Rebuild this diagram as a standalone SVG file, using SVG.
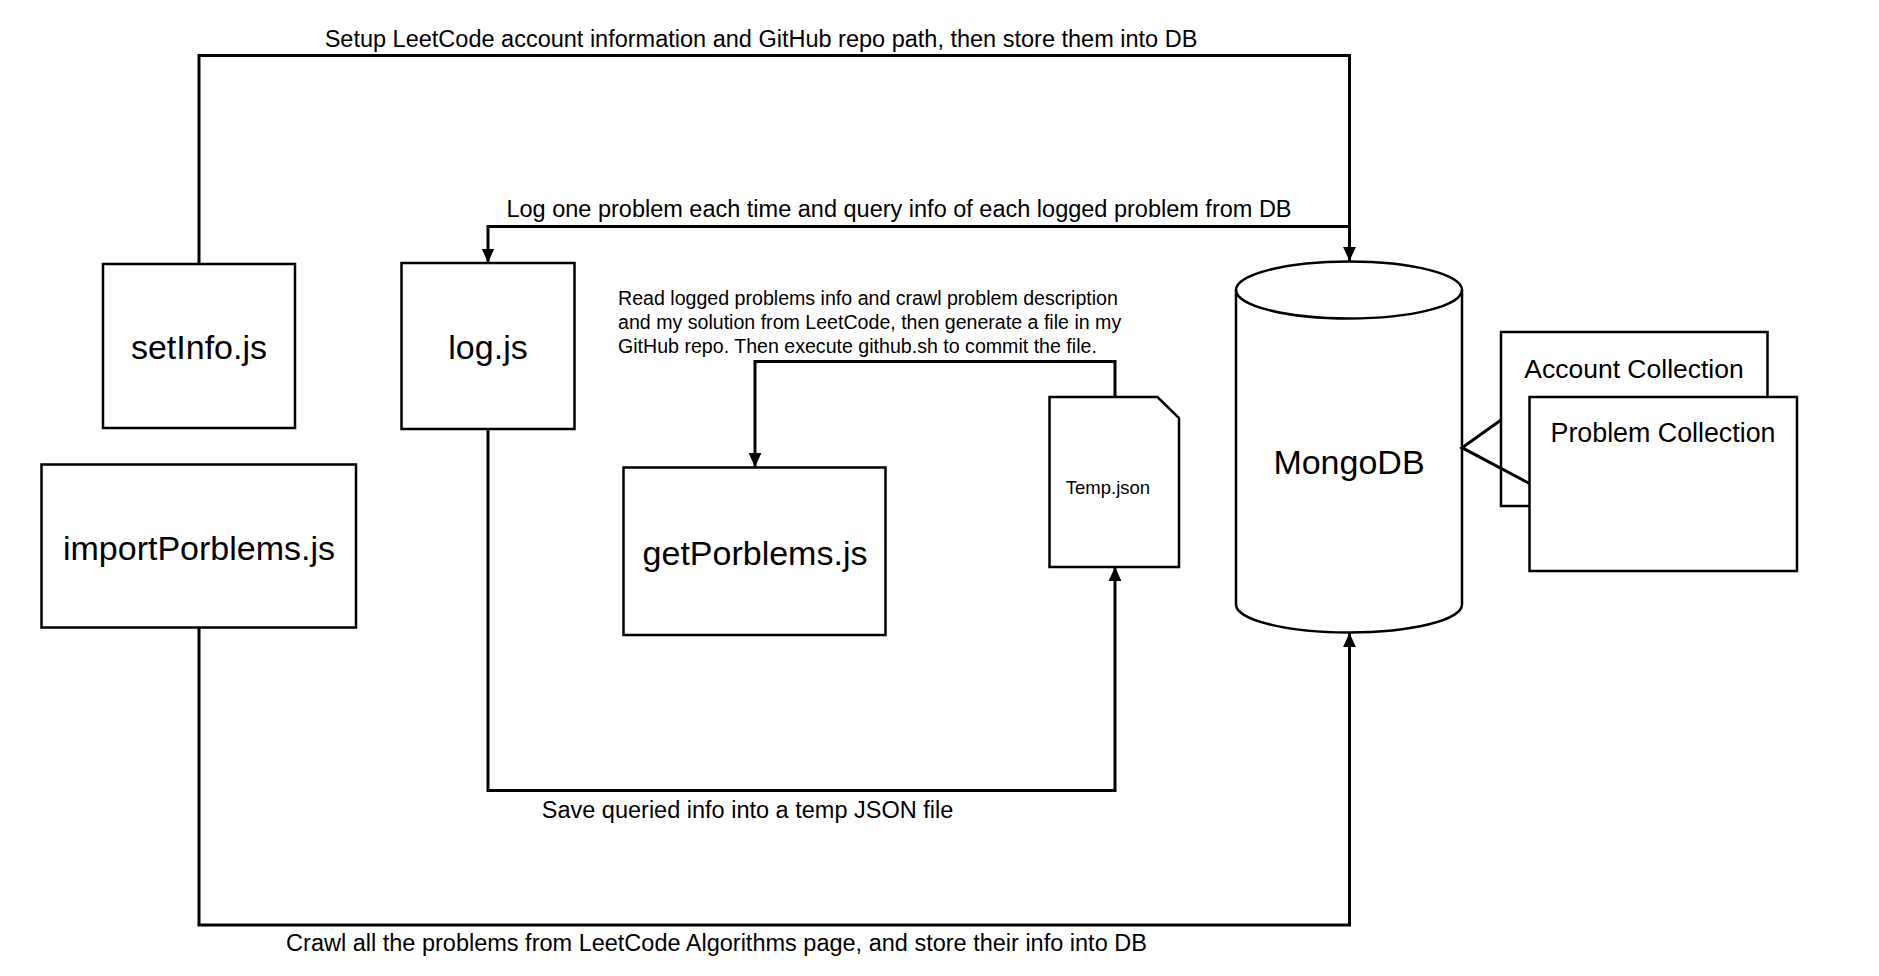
<svg xmlns="http://www.w3.org/2000/svg" width="1879" height="976" viewBox="0 0 1879 976">
<defs>
<style>
.box{fill:#fff;stroke:#000;stroke-width:2.5}
.conn{fill:none;stroke:#000;stroke-width:3;stroke-linejoin:miter}
.t{font-family:"Liberation Sans",Arial,sans-serif;fill:#000}
.node{font-size:34px;text-anchor:middle}
.lbl{font-size:23.5px;text-anchor:middle}
.para{font-size:19.6px}
</style>
<marker id="arr" markerUnits="userSpaceOnUse" markerWidth="14" markerHeight="14" viewBox="0 0 12 12" refX="12" refY="6" orient="auto">
<path d="M0,0.5 L12,6 L0,11.5 Z" fill="#000"/>
</marker>
</defs>
<rect x="0" y="0" width="1879" height="976" fill="#fff"/>

<g id="node-setInfo">
<rect class="box" x="103" y="264" width="192" height="164"/>
<text class="t node" x="199" y="359">setInfo.js</text>
</g>

<g id="node-log">
<rect class="box" x="401.5" y="263" width="173" height="166"/>
<text class="t node" x="488" y="359">log.js</text>
</g>

<g id="node-importPorblems">
<rect class="box" x="41.5" y="464.5" width="314.5" height="163"/>
<text class="t node" x="199" y="560" font-size="34.8">importPorblems.js</text>
</g>

<g id="node-getPorblems">
<rect class="box" x="623.5" y="467.5" width="262" height="167.5"/>
<text class="t node" x="755" y="565">getPorblems.js</text>
</g>

<g id="node-temp">
<path class="box" d="M1049.5,397 H1157.5 L1179,418 V567 H1049.5 Z"/>
<text class="t" x="1108" y="494" font-size="18.5" text-anchor="middle">Temp.json</text>
</g>

<g id="node-mongodb">
<path class="box" d="M1236,290 A113,28.5 0 0 1 1462,290 V604.5 A113,28 0 0 1 1236,604.5 Z"/>
<path fill="none" stroke="#000" stroke-width="2.5" d="M1236,290 A113,28.5 0 0 0 1462,290"/>
<text class="t" x="1349" y="474" font-size="34" text-anchor="middle">MongoDB</text>
</g>

<g id="node-account">
<rect class="box" x="1501" y="332" width="266.5" height="174"/>
<text class="t" x="1634" y="378" font-size="26.5" text-anchor="middle">Account Collection</text>
</g>

<g id="node-problem">
<rect class="box" x="1529.5" y="397" width="267.5" height="174"/>
<text class="t" x="1663" y="442" font-size="26.8" text-anchor="middle">Problem Collection</text>
</g>

<g id="note">
<text class="t para" x="618" y="305">Read logged problems info and crawl problem description</text>
<text class="t para" x="618" y="329">and my solution from LeetCode, then generate a file in my</text>
<text class="t para" x="618" y="353">GitHub repo. Then execute github.sh to commit the file.</text>
</g>

<g id="connectors">
<path class="conn" d="M199,264 V55.5 H1349.5 V261" marker-end="url(#arr)"/>
<path class="conn" d="M1349.5,226.5 H488 V262.5" marker-end="url(#arr)"/>
<path class="conn" d="M199,627.5 V925 H1349.5 V633" marker-end="url(#arr)"/>
<path class="conn" d="M488,429 V790.5 H1115 V567" marker-end="url(#arr)"/>
<path class="conn" d="M1115,397 V361.5 H755 V467" marker-end="url(#arr)"/>
<path class="conn" d="M1501,420 L1462,447.7 L1529.5,483.5"/>
<text class="t lbl" x="761" y="46.7" font-size="23.6">Setup LeetCode account information and GitHub repo path, then store them into DB</text>
<text class="t lbl" x="899" y="216.7" font-size="23.7">Log one problem each time and query info of each logged problem from DB</text>
<text class="t lbl" x="747.5" y="818" font-size="23.2">Save queried info into a temp JSON file</text>
<text class="t lbl" x="716.5" y="951" font-size="23.5">Crawl all the problems from LeetCode Algorithms page, and store their info into DB</text>
</g>
</svg>
